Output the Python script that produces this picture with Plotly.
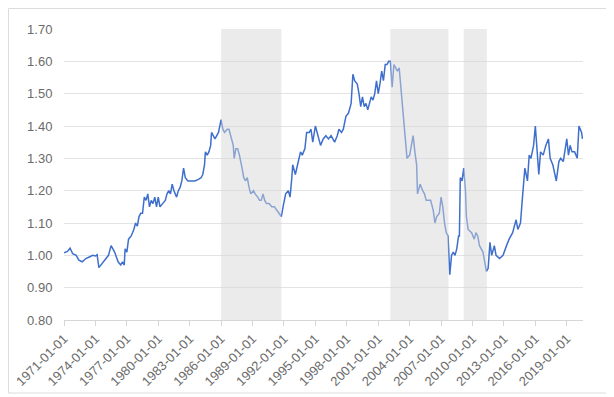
import plotly.graph_objects as go

dates = [
"1971-01","1971-05","1971-08","1971-11","1972-03","1972-06","1972-10","1973-02","1973-06","1973-10",
"1974-01","1974-03","1974-05","1974-10","1975-01","1975-04","1975-07","1975-09","1975-11","1976-03",
"1976-06","1976-08","1976-10","1976-11","1977-01","1977-03","1977-06","1977-09","1977-11","1978-01",
"1978-03","1978-05","1978-07","1978-09","1978-11","1979-01","1979-03","1979-05","1979-07","1979-09",
"1979-11","1980-01","1980-03","1980-06","1980-09","1980-11","1981-01","1981-03","1981-05","1981-07",
"1981-10","1981-12","1982-02","1982-04","1982-06","1982-08","1982-11","1983-03","1983-07","1983-11",
"1984-02","1984-04","1984-06","1984-07","1984-09","1984-11","1985-01","1985-02","1985-04","1985-06",
"1985-08","1985-10","1986-01","1986-03","1986-05","1986-08","1986-10","1987-01","1987-03","1987-04",
"1987-06","1987-08","1987-10","1988-01","1988-03","1988-05","1988-07","1988-09","1988-11","1989-02",
"1989-04","1989-07","1989-09","1989-11","1990-01","1990-03","1990-05","1990-08","1990-11","1991-02",
"1991-05","1991-08","1991-10","1991-12","1992-03","1992-06","1992-08","1992-10","1992-11","1993-02",
"1993-05","1993-08","1993-10","1994-01","1994-03","1994-06","1994-08","1994-10","1995-01","1995-04",
"1995-07","1995-10","1996-01","1996-04","1996-07","1996-09","1996-11","1997-02","1997-04","1997-07",
"1997-09","1997-12","1998-03","1998-06","1998-08","1998-10","1999-01","1999-03","1999-05","1999-07",
"1999-09","1999-11","2000-01","2000-03","2000-05","2000-07","2000-09","2000-11","2001-01","2001-03",
"2001-05","2001-07","2001-09","2001-11","2002-01","2002-03","2002-05","2002-07","2002-09","2002-11",
"2003-01","2003-03","2003-06","2003-08","2003-10","2004-01","2004-03","2004-05","2004-07","2004-09",
"2004-10","2005-01","2005-04","2005-06","2005-08","2005-11","2006-01","2006-04","2006-06","2006-08",
"2006-11","2007-01","2007-03","2007-05","2007-07","2007-09","2007-11","2008-01","2008-03","2008-05",
"2008-07","2008-09","2008-10","2008-11","2009-01","2009-03","2009-05","2009-06","2009-08","2009-12",
"2010-03","2010-05","2010-07","2010-09","2011-01","2011-05","2011-07","2011-09","2011-11","2012-02",
"2012-04","2012-08","2012-12","2013-04","2013-07","2013-11","2014-03","2014-05","2014-08","2014-10",
"2015-01","2015-04","2015-06","2015-08","2015-11","2016-01","2016-03","2016-05","2016-07","2016-10",
"2017-01","2017-04","2017-06","2017-09","2018-01","2018-04","2018-06","2018-09","2019-01","2019-03",
"2019-05","2019-07","2019-10","2020-01","2020-03","2020-06","2020-07",
]
values = [
1.008,1.012,1.022,1.005,1.000,0.985,0.980,0.990,0.995,1.000,
0.998,1.002,0.962,0.980,0.990,1.000,1.030,1.020,1.010,0.980,
0.970,0.980,0.970,1.020,1.010,1.050,1.060,1.080,1.100,1.090,
1.120,1.130,1.130,1.180,1.170,1.190,1.150,1.170,1.160,1.180,
1.150,1.180,1.150,1.160,1.170,1.190,1.200,1.190,1.220,1.200,
1.180,1.200,1.210,1.230,1.270,1.240,1.230,1.230,1.230,1.235,
1.240,1.250,1.280,1.320,1.310,1.320,1.340,1.380,1.370,1.360,
1.370,1.380,1.420,1.390,1.380,1.390,1.390,1.360,1.340,1.300,
1.330,1.330,1.310,1.270,1.240,1.230,1.240,1.210,1.190,1.200,
1.190,1.180,1.170,1.170,1.190,1.170,1.160,1.160,1.150,1.150,
1.140,1.130,1.120,1.150,1.190,1.200,1.180,1.240,1.280,1.250,
1.280,1.320,1.310,1.330,1.380,1.380,1.390,1.350,1.400,1.370,
1.340,1.360,1.370,1.360,1.370,1.360,1.350,1.370,1.390,1.380,
1.390,1.430,1.440,1.470,1.560,1.540,1.530,1.500,1.460,1.490,
1.460,1.470,1.450,1.470,1.490,1.480,1.500,1.540,1.500,1.530,
1.570,1.540,1.590,1.590,1.600,1.600,1.520,1.590,1.580,1.570,
1.580,1.520,1.420,1.370,1.300,1.310,1.340,1.370,1.320,1.280,
1.190,1.220,1.200,1.190,1.170,1.170,1.170,1.140,1.100,1.120,
1.130,1.180,1.150,1.100,1.070,1.060,0.940,1.000,1.010,1.000,
1.020,1.060,1.060,1.240,1.230,1.270,1.200,1.120,1.080,1.070,
1.050,1.070,1.060,1.030,1.010,0.950,0.960,1.040,1.000,1.030,
1.000,0.990,1.000,1.030,1.050,1.070,1.110,1.080,1.100,1.170,
1.270,1.230,1.310,1.300,1.340,1.400,1.330,1.250,1.320,1.310,
1.340,1.360,1.300,1.280,1.230,1.290,1.300,1.290,1.360,1.310,
1.340,1.320,1.320,1.300,1.400,1.380,1.360,
]

shade_periods = [("1986-01-01", "1991-10-01"), ("2002-03-01", "2007-09-15"), ("2009-03-01", "2011-05-15")]
tick_years = list(range(1971, 2020, 3))
y_ticks = [0.8, 0.9, 1.0, 1.1, 1.2, 1.3, 1.4, 1.5, 1.6, 1.7]

fig = go.Figure()
fig.add_trace(go.Scatter(x=[d + "-01" for d in dates], y=values, mode="lines",
                         line=dict(color="#3f6fcc", width=1.5), showlegend=False))

shapes = []
for s, e in shade_periods:
    shapes.append(dict(type="rect", xref="x", yref="y", x0=s, x1=e, y0=0.8, y1=1.7,
                       fillcolor="rgba(215,215,215,0.5)", line=dict(width=0), layer="above"))
shapes.append(dict(type="rect", xref="paper", yref="paper", x0=-0.1069, x1=1.0482,
                   y0=-0.2509, y1=1.0704, line=dict(color="#dcdcdc", width=1),
                   fillcolor="rgba(0,0,0,0)", layer="below"))

fig.update_layout(
    width=606, height=389,
    margin=dict(l=56, r=31, t=21, b=77, autoexpand=False),
    paper_bgcolor="white", plot_bgcolor="white",
    font=dict(family="Arial, Liberation Sans, sans-serif", size=12, color="#6b6b6b"),
    shapes=shapes,
    xaxis=dict(range=["1971-01-01", "2020-07-20"], tickvals=[f"{y}-01-01" for y in tick_years],
               ticktext=[f"{y}-01-01" for y in tick_years], tickangle=-45, automargin=False,
               showgrid=False, zeroline=False, showline=True, linecolor="#d6d6d6", linewidth=1,
               ticks="outside", ticklen=5, tickcolor="#d6d6d6",
               tickfont=dict(size=13, color="#6b6b6b")),
    yaxis=dict(range=[0.8, 1.7], tickvals=y_ticks, ticktext=[f"{v:.2f}" for v in y_ticks],
               automargin=False,
               showgrid=True, gridcolor="#e3e3e3", gridwidth=1, zeroline=False, showline=False,
               ticks="outside", ticklen=8, tickcolor="rgba(0,0,0,0)",
               tickfont=dict(size=13, color="#6b6b6b")),
)

fig.write_html("out.html")
